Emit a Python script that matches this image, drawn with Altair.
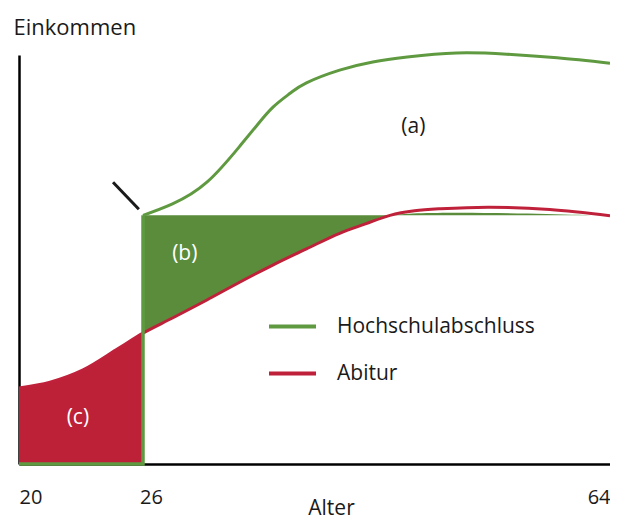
import altair as alt
import pandas as pd

# --- data (age in years, income in relative units 0..100) ---
green_age = [26, 28.4, 31.2, 33.9, 35.3, 36.6, 38.0, 39.3, 42.0, 44.7, 47.5, 51.5, 55.6, 59.7, 64]
green_inc = [60.8, 63.6, 68.9, 77.8, 82.9, 87.3, 90.7, 93.2, 96.3, 98.3, 99.5, 100.5, 100.2, 99.3, 98.0]
red_age = [20, 21.5, 23.1, 24.7, 26, 28.4, 31.2, 33.9, 36.6, 39.3, 42.0, 44.1, 46.1, 48.1, 50.2, 54.2, 59.1, 64]
red_inc = [18.6, 20.0, 23.0, 27.9, 32.0, 35.7, 40.1, 44.5, 48.7, 52.6, 56.4, 58.7, 60.8, 61.9, 62.4, 62.8, 62.2, 60.7]
study_age = [20, 26, 26]
study_inc = [0, 0, 60.8]
tick_values = [20, 26, 64]
series = ["Hochschulabschluss", "Abitur"]
line_colors = ["#5f9a41", "#c0213a"]
fill_green = "#5a8c3c"
fill_red = "#bd2138"
label_text = ["(a)", "(b)", "(c)"]
label_age = [48.0, 29.4, 22.85]
label_inc = [82.4, 51.3, 11.2]
label_color = ["#1a1a1a", "white", "white"]
pointer_age = [24.55, 25.8]
pointer_inc = [68.9, 62.3]

FONT = "Open Sans"
CURVE = "catmull-rom"

green_df = pd.DataFrame({"Alter": green_age, "Einkommen": green_inc, "Serie": series[0]})
study_df = pd.DataFrame({"Alter": study_age, "Einkommen": study_inc, "Serie": series[0]})
red_df = pd.DataFrame({"Alter": red_age, "Einkommen": red_inc, "Serie": series[1]})
red_before = red_df[red_df["Alter"] <= 26].copy()
red_before["Basis"] = 0
start_level = green_inc[0]
red_gap = red_df[(red_df["Alter"] >= 26) & (red_df["Einkommen"] <= start_level)].copy()
red_gap["Niveau"] = start_level
labels_df = pd.DataFrame({"t": label_text, "Alter": label_age, "Einkommen": label_inc, "c": label_color})
pointer_df = pd.DataFrame({"a1": [pointer_age[0]], "a2": [pointer_age[1]],
                           "e1": [pointer_inc[0]], "e2": [pointer_inc[1]]})

x_scale = alt.Scale(domain=[20, 26, 64], range=[0, 124, 591])
y_scale = alt.Scale(domain=[0, 100], nice=False, zero=True)

x_axis = alt.Axis(
    values=tick_values, title="Alter", grid=False, ticks=False, tickSize=0,
    domainColor="black", domainWidth=2.5,
    labelFontSize=20, labelColor="#1a1a1a", labelFlush=True,
    labelBaseline="alphabetic", labelPadding=39,
    labelOffset={"condition": {"test": "datum.value == 26", "value": 8}, "value": 0},
    titleFontSize=21, titleFontWeight="normal", titleColor="#1a1a1a",
    titleX=312, titleY=50, titleBaseline="alphabetic", titleAlign="center",
)
y_axis = alt.Axis(
    title="Einkommen", labels=False, ticks=False, grid=False,
    domainColor="black", domainWidth=2.5,
    titleAngle=0, titleAlign="left", titleBaseline="alphabetic",
    titleX=-6, titleY=-21, titleFontSize=22, titleFontWeight="normal", titleColor="#1a1a1a",
)

X = alt.X("Alter:Q", scale=x_scale, axis=x_axis)
Y = alt.Y("Einkommen:Q", scale=y_scale, axis=y_axis)

color = alt.Color(
    "Serie:N",
    scale=alt.Scale(domain=series, range=line_colors),
    legend=alt.Legend(
        orient="none", legendX=248, legendY=246, title=None,
        symbolType="stroke", symbolSize=2209, symbolStrokeWidth=4,
        labelFontSize=21, labelColor="#1a1a1a", labelOffset=19, rowPadding=11,
        labelLimit=0,
    ),
)

red_area = alt.Chart(red_before).mark_area(color=fill_red, interpolate=CURVE).encode(
    x=X, y=Y, y2="Basis:Q"
)
green_area = alt.Chart(red_gap).mark_area(color=fill_green, interpolate=CURVE).encode(
    x=X, y=Y, y2="Niveau:Q"
)
red_line = alt.Chart(red_df).mark_line(strokeWidth=3, interpolate=CURVE).encode(
    x=X, y=Y, color=color
)
study_line = alt.Chart(study_df).mark_line(strokeWidth=3.5, interpolate="linear").encode(
    x=X, y=Y, color=color
)
green_line = alt.Chart(green_df).mark_line(strokeWidth=3, interpolate="natural").encode(
    x=X, y=Y, color=color
)
pointer = alt.Chart(pointer_df).mark_rule(color="#1a1a1a", strokeWidth=3).encode(
    x=alt.X("a1:Q", scale=x_scale), x2="a2:Q",
    y=alt.Y("e1:Q", scale=y_scale), y2="e2:Q",
)
texts = alt.Chart(labels_df).mark_text(fontSize=21, font=FONT, align="center", baseline="middle").encode(
    x=X, y=Y, text="t:N", color=alt.Color("c:N", scale=None)
)

chart = alt.layer(
    red_area, green_area, red_line, study_line, green_line, pointer, texts
).properties(
    width=591, height=409,
    autosize=alt.AutoSizeParams(type="none"),
    padding={"left": 11, "top": 47, "right": 0, "bottom": 56},
).configure(font=FONT).configure_view(stroke=None)

chart.save("out.html", embed_options={"renderer": "svg", "actions": False})
